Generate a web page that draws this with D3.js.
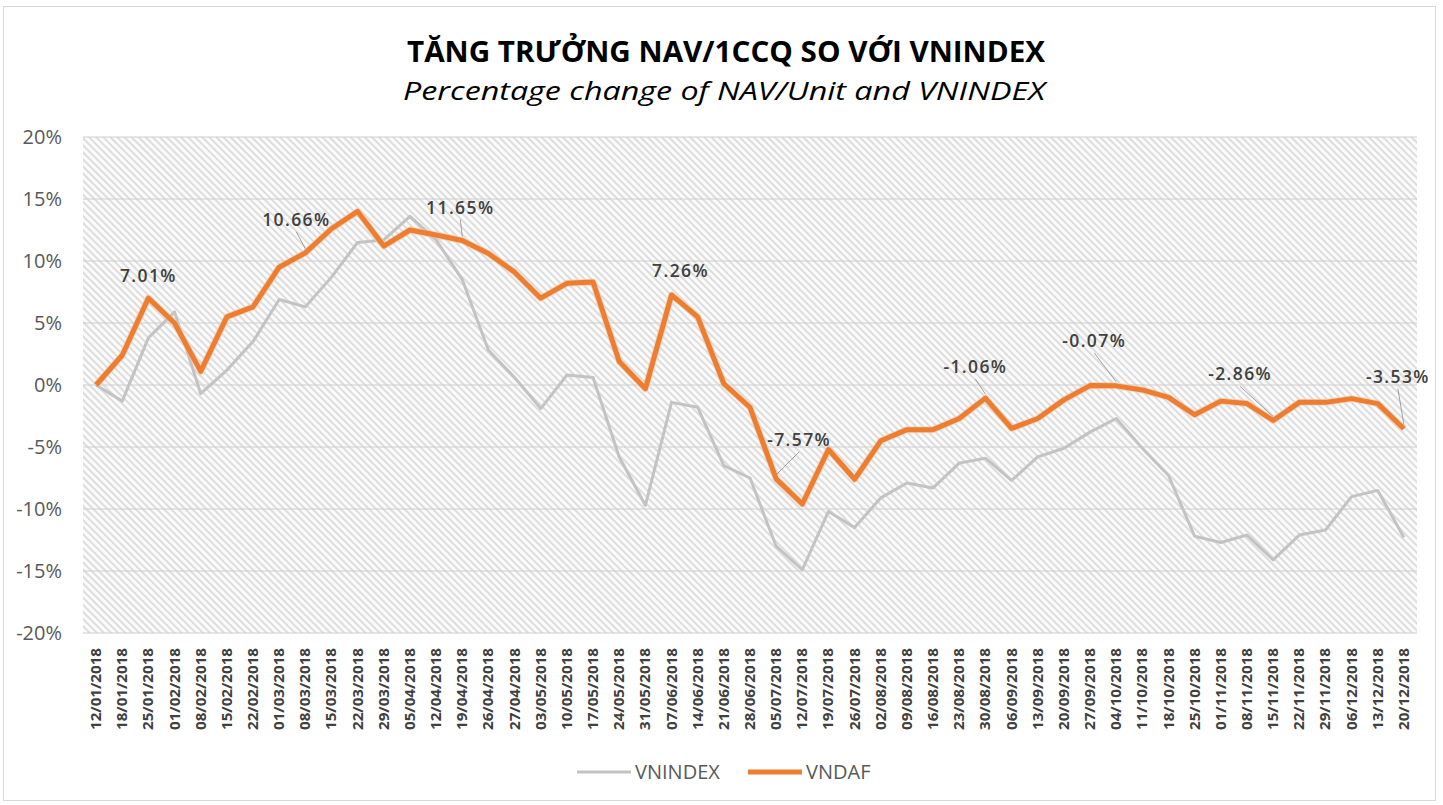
<!DOCTYPE html>
<html>
<head>
<meta charset="utf-8">
<script src="https://cdn.jsdelivr.net/npm/d3@7"></script>
<style>
  body { margin: 0; background: #fff; }
  text { font-family: "Open Sans", sans-serif; }
</style>
</head>
<body>
<svg id="chart" width="1443" height="805"></svg>
<script>
// weekly dates 2018
var dates = ["12/01/2018","18/01/2018","25/01/2018","01/02/2018","08/02/2018","15/02/2018","22/02/2018",
  "01/03/2018","08/03/2018","15/03/2018","22/03/2018","29/03/2018","05/04/2018","12/04/2018","19/04/2018",
  "26/04/2018","27/04/2018","03/05/2018","10/05/2018","17/05/2018","24/05/2018","31/05/2018","07/06/2018",
  "14/06/2018","21/06/2018","28/06/2018","05/07/2018","12/07/2018","19/07/2018","26/07/2018","02/08/2018",
  "09/08/2018","16/08/2018","23/08/2018","30/08/2018","06/09/2018","13/09/2018","20/09/2018","27/09/2018",
  "04/10/2018","11/10/2018","18/10/2018","25/10/2018","01/11/2018","08/11/2018","15/11/2018","22/11/2018",
  "29/11/2018","06/12/2018","13/12/2018","20/12/2018"]

// % change
var vnindex = [0, -1.3, 3.8, 5.9, -0.7, 1.2, 3.5, 6.9, 6.3, 8.7, 11.5, 11.7, 13.6, 11.7, 8.5,
  2.8, 0.6, -1.9, 0.8, 0.6, -5.8, -9.7, -1.4, -1.8, -6.5, -7.5, -13.0, -14.9, -10.2, -11.5,
  -9.1, -7.9, -8.3, -6.3, -5.9, -7.7, -5.8, -5.1, -3.8, -2.7, -5.1, -7.3, -12.2, -12.7, -12.1,
  -14.1, -12.1, -11.7, -9.0, -8.5, -12.3]

var vndaf = [0, 2.4, 7.01, 5.0, 1.1, 5.5, 6.3, 9.5, 10.66, 12.6, 14.0, 11.2, 12.5, 12.1, 11.65,
  10.6, 9.1, 7.0, 8.2, 8.3, 1.9, -0.3, 7.26, 5.5, 0.1, -1.8, -7.57, -9.6, -5.2, -7.6,
  -4.5, -3.6, -3.6, -2.7, -1.06, -3.5, -2.7, -1.2, -0.05, -0.07, -0.4, -1.0, -2.4, -1.3, -1.5,
  -2.86, -1.4, -1.4, -1.1, -1.5, -3.53]

var yTicks = [-20, -15, -10, -5, 0, 5, 10, 15, 20]

// labelled points of VNDAF
var labelIdx = [2, 8, 14, 22, 26, 34, 39, 45, 50]
// label placement (dx, dy of baseline) and whether a leader line is drawn
var labelPos = [[0, -16, 0], [-9, -27, 1], [-2, -27, 1], [9, -18, 0], [23, -33, 1],
  [-10, -25, 1], [-22, -39, 1], [-33, -40, 1], [-6, -46, 1]]

var svg = d3.select("#chart")
var W = 1443, H = 805
var plotL = 83, plotR = 1417, plotT = 137, plotB = 633

svg.append("rect").attr("width", W).attr("height", H).attr("fill", "#fff")
svg.append("rect")
  .attr("x", 3.5).attr("y", 6.5)
  .attr("width", 1432).attr("height", 794)
  .attr("fill", "none").attr("stroke", "#d9d9d9")

// hatch pattern
var defs = svg.append("defs")
var pat = defs.append("pattern")
  .attr("id", "hatch")
  .attr("patternUnits", "userSpaceOnUse")
  .attr("width", 5).attr("height", 5)
  .attr("patternTransform", "rotate(-45)")
pat.append("rect").attr("width", 5).attr("height", 5).attr("fill", "#fbfbfb")
pat.append("line")
  .attr("x1", 1).attr("y1", 0).attr("x2", 1).attr("y2", 5)
  .attr("stroke", "#d6d6d6").attr("stroke-width", 1.6)

var x = d3.scalePoint().domain(dates).range([plotL, plotR]).padding(0.5)
var y = d3.scaleLinear().domain([-20, 20]).range([plotB, plotT])

svg.append("rect")
  .attr("x", plotL).attr("y", plotT)
  .attr("width", plotR - plotL).attr("height", plotB - plotT)
  .attr("fill", "url(#hatch)")

// grid
svg.append("g").selectAll("line")
  .data(yTicks).enter().append("line")
  .attr("x1", plotL).attr("x2", plotR)
  .attr("y1", function(d) { return y(d) }).attr("y2", function(d) { return y(d) })
  .attr("stroke", "#d0d0d0").attr("stroke-width", 1.2)

// y axis labels
svg.append("g").selectAll("text")
  .data(yTicks).enter().append("text")
  .attr("x", 62).attr("y", function(d) { return y(d) + 7 })
  .attr("text-anchor", "end")
  .attr("font-size", 20).attr("fill", "#595959")
  .text(function(d) { return d + "%" })

// x axis labels
svg.append("g").selectAll("text")
  .data(dates).enter().append("text")
  .attr("transform", function(d) { return "translate(" + (x(d) + 5) + ",648) rotate(-90)" })
  .attr("text-anchor", "end")
  .attr("font-size", 13.5).attr("font-weight", "bold").attr("fill", "#404040")
  .attr("textLength", 82).attr("lengthAdjust", "spacingAndGlyphs")
  .text(function(d) { return d })

var line = d3.line()
  .x(function(d, i) { return x(dates[i]) })
  .y(function(d) { return y(d) })

svg.append("path").datum(vnindex)
  .attr("d", line)
  .attr("fill", "none").attr("stroke", "#c3c3c3").attr("stroke-width", 3)
  .attr("stroke-linejoin", "round")

svg.append("path").datum(vndaf)
  .attr("d", line)
  .attr("fill", "none").attr("stroke", "#f5c6a3").attr("stroke-width", 7)
  .attr("stroke-linejoin", "round").attr("opacity", 0.6)
svg.append("path").datum(vndaf)
  .attr("d", line)
  .attr("fill", "none").attr("stroke", "#ed7d31").attr("stroke-width", 5)
  .attr("stroke-linejoin", "round")

// data labels
var lab = svg.append("g")
labelIdx.forEach(function(idx, k) {
  var px = x(dates[idx]), py = y(vndaf[idx])
  var p = labelPos[k]
  var tx = px + p[0], ty = py + p[1]
  if (p[2]) {
    lab.append("line")
      .attr("x1", tx).attr("y1", ty + 6)
      .attr("x2", px).attr("y2", py - 4)
      .attr("stroke", "#8c8c8c").attr("stroke-width", 0.8)
  }
  lab.append("text")
    .attr("x", tx).attr("y", ty)
    .attr("text-anchor", "middle")
    .attr("font-size", 17.5).attr("font-weight", 600).attr("fill", "#404040")
    .attr("letter-spacing", 1.4)
    .text(vndaf[idx].toFixed(2) + "%")
})

// title
svg.append("text")
  .attr("x", 726).attr("y", 62)
  .attr("text-anchor", "middle")
  .attr("font-size", 29).attr("font-weight", "bold").attr("fill", "#000")
  .attr("textLength", 638).attr("lengthAdjust", "spacingAndGlyphs")
  .text("TĂNG TRƯỞNG NAV/1CCQ SO VỚI VNINDEX")
svg.append("text")
  .attr("x", 724).attr("y", 100)
  .attr("text-anchor", "middle")
  .attr("font-size", 26).attr("font-style", "italic").attr("fill", "#000")
  .attr("textLength", 642).attr("lengthAdjust", "spacingAndGlyphs")
  .text("Percentage change of NAV/Unit and VNINDEX")

// legend
var legend = [{name: "VNINDEX", color: "#c3c3c3", w: 3, x: 577},
  {name: "VNDAF", color: "#ed7d31", w: 5, x: 748}]
var lg = svg.append("g").selectAll("g").data(legend).enter().append("g")
lg.append("line")
  .attr("x1", function(d) { return d.x }).attr("x2", function(d) { return d.x + 54 })
  .attr("y1", 772).attr("y2", 772)
  .attr("stroke", function(d) { return d.color }).attr("stroke-width", function(d) { return d.w })
lg.append("text")
  .attr("x", function(d) { return d.x + 58 }).attr("y", 779)
  .attr("font-size", 20).attr("fill", "#595959")
  .text(function(d) { return d.name })
</script>
</body>
</html>
